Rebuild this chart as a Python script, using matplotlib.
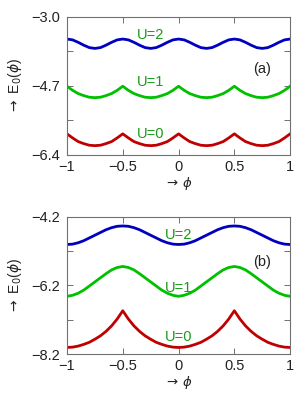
import numpy as np
import matplotlib.pyplot as plt

plt.rcParams['font.family'] = ['Liberation Sans', 'DejaVu Sans']
plt.rcParams['mathtext.fontset'] = 'dejavusans'

phi = [-1.00, -0.95, -0.90, -0.85, -0.80, -0.75, -0.70, -0.65, -0.60, -0.55,
       -0.50, -0.45, -0.40, -0.35, -0.30, -0.25, -0.20, -0.15, -0.10, -0.05,
       0.00, 0.05, 0.10, 0.15, 0.20, 0.25, 0.30, 0.35, 0.40, 0.45,
       0.50, 0.55, 0.60, 0.65, 0.70, 0.75, 0.80, 0.85, 0.90, 0.95, 1.00]

# panel (a)
a_u0 = [-5.88, -5.98, -6.07, -6.12, -6.16, -6.17, -6.16, -6.12, -6.07, -5.98,
        -5.88, -5.98, -6.07, -6.12, -6.16, -6.17, -6.16, -6.12, -6.07, -5.98,
        -5.88, -5.98, -6.07, -6.12, -6.16, -6.17, -6.16, -6.12, -6.07, -5.98,
        -5.88, -5.98, -6.07, -6.12, -6.16, -6.17, -6.16, -6.12, -6.07, -5.98, -5.88]
a_u1 = [-4.71, -4.81, -4.89, -4.94, -4.98, -4.99, -4.98, -4.94, -4.89, -4.81,
        -4.71, -4.81, -4.89, -4.94, -4.98, -4.99, -4.98, -4.94, -4.89, -4.81,
        -4.71, -4.81, -4.89, -4.94, -4.98, -4.99, -4.98, -4.94, -4.89, -4.81,
        -4.71, -4.81, -4.89, -4.94, -4.98, -4.99, -4.98, -4.94, -4.89, -4.81, -4.71]
a_u2 = [-3.55, -3.57, -3.63, -3.70, -3.76, -3.78, -3.76, -3.70, -3.63, -3.57,
        -3.55, -3.57, -3.63, -3.70, -3.76, -3.78, -3.76, -3.70, -3.63, -3.57,
        -3.55, -3.57, -3.63, -3.70, -3.76, -3.78, -3.76, -3.70, -3.63, -3.57,
        -3.55, -3.57, -3.63, -3.70, -3.76, -3.78, -3.76, -3.70, -3.63, -3.57, -3.55]

# panel (b)
b_u0 = [-8.01, -8.00, -7.97, -7.92, -7.86, -7.77, -7.67, -7.54, -7.38, -7.18,
        -6.94, -7.18, -7.38, -7.54, -7.67, -7.77, -7.86, -7.92, -7.97, -8.00,
        -8.01, -8.00, -7.97, -7.92, -7.86, -7.77, -7.67, -7.54, -7.38, -7.18,
        -6.94, -7.18, -7.38, -7.54, -7.67, -7.77, -7.86, -7.92, -7.97, -8.00, -8.01]
b_u1 = [-6.52, -6.49, -6.43, -6.34, -6.22, -6.10, -5.98, -5.86, -5.75, -5.68,
        -5.65, -5.68, -5.75, -5.86, -5.98, -6.10, -6.22, -6.34, -6.43, -6.49,
        -6.52, -6.49, -6.43, -6.34, -6.22, -6.10, -5.98, -5.86, -5.75, -5.68,
        -5.65, -5.68, -5.75, -5.86, -5.98, -6.10, -6.22, -6.34, -6.43, -6.49, -6.52]
b_u2 = [-5.01, -5.00, -4.96, -4.90, -4.82, -4.74, -4.66, -4.58, -4.52, -4.48,
        -4.47, -4.48, -4.52, -4.58, -4.66, -4.74, -4.82, -4.90, -4.96, -5.00,
        -5.01, -5.00, -4.96, -4.90, -4.82, -4.74, -4.66, -4.58, -4.52, -4.48,
        -4.47, -4.48, -4.52, -4.58, -4.66, -4.74, -4.82, -4.90, -4.96, -5.00, -5.01]

xticks = [-1, -0.5, 0, 0.5, 1]
xticklabels = ['\u22121', '\u22120.5', '0', '0.5', '1']
a_yticks = [-6.4, -5.55, -4.7, -3.85, -3.0]
a_ylabels = ['\u22126.4', '', '\u22124.7', '', '\u22123.0']
b_yticks = [-8.2, -7.2, -6.2, -5.2, -4.2]
b_ylabels = ['\u22128.2', '', '\u22126.2', '', '\u22124.2']

red = '#c00000'
green = '#00c000'
blue = '#0000c0'
txtgreen = '#1a9a1a'

fig = plt.figure(figsize=(3.08, 4.0), dpi=100)
ax1 = fig.add_axes([0.2175, 0.6125, 0.7245, 0.3458])
ax2 = fig.add_axes([0.2175, 0.115, 0.7245, 0.3433])

panels = [
    (ax1, [a_u0, a_u1, a_u2], a_yticks, a_ylabels,
     [(-0.25, -5.88), (-0.25, -4.605), (-0.25, -3.45)], (0.75, -4.29), '(a)'),
    (ax2, [b_u0, b_u1, b_u2], b_yticks, b_ylabels,
     [(0.0, -7.70), (0.0, -6.29), (0.0, -4.73)], (0.75, -5.53), '(b)'),
]

for ax, ys, yt, yl, lpos, ppos, ptxt in panels:
    for y, c in zip(ys, [red, green, blue]):
        ax.plot(phi, y, color=c, lw=2.0, solid_joinstyle='round')
    for (x, y), t in zip(lpos, ['U=0', 'U=1', 'U=2']):
        ax.text(x, y, t, color=txtgreen, fontsize=10.5, ha='center', va='center')
    ax.text(ppos[0], ppos[1], ptxt, color='#222222', fontsize=10.5,
            ha='center', va='center')
    ax.set_xlim(-1, 1)
    ax.set_ylim(yt[0], yt[-1])
    ax.set_xticks(xticks)
    ax.set_xticklabels(xticklabels)
    ax.set_yticks(yt)
    ax.set_yticklabels(yl)
    ax.tick_params(direction='in', top=True, right=True, length=4, width=0.7,
                   color='#707070', labelsize=10.5, labelcolor='#222222')
    ax.tick_params(axis='y', pad=5)
    ax.tick_params(axis='x', pad=3.5)
    for s in ax.spines.values():
        s.set_color('#707070')
        s.set_linewidth(0.8)
    ax.set_xlabel(r'$\rightarrow\,\phi$', fontsize=9.5, color='#222222', labelpad=1)
    ax.set_ylabel(r'$\rightarrow$ E$_0$($\phi$)', fontsize=10, color='#222222',
                  labelpad=5)

fig.savefig('out.png', dpi=100)
